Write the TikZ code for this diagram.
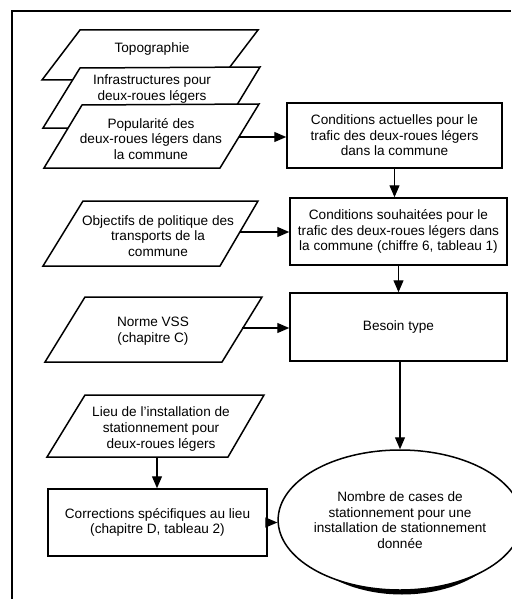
\documentclass[tikz,border=0pt]{standalone}
\usepackage{fontspec}
\setmainfont{Liberation Sans}
\usetikzlibrary{arrows.meta,shapes.geometric}
\newcommand{\fsz}{\fontsize{13.6}{15.6}\selectfont}
\tikzset{
  box/.style={draw, line width=1.5pt, fill=white, align=center, inner sep=0pt, font=\fsz},
  txt/.style={align=center, inner sep=0pt, font=\fsz},
  arr/.style={line width=1.2pt, -{Triangle[length=12pt,width=10pt]}},
  para/.style={draw, line width=1.5pt, fill=white, line join=miter},
}
\begin{document}
\begin{tikzpicture}[x=1pt,y=-1pt]
\useasboundingbox (0,0) rectangle (511,599);
% frame
\draw[line width=2.2pt] (12,599) -- (12,11) -- (511,11);
% stacked inputs
\draw[para] (80,30) -- (258,30) -- (220,80) -- (42,80) -- cycle;
\node[txt] (topo) at (152,49) {Topographie};
\draw[para] (80,68) -- (260,67) -- (223,128) -- (43,128) -- cycle;
\node[txt] (infra) at (152,89) {Infrastructures pour\\deux-roues légers};
\draw[para] (82,105) -- (259,104) -- (220,168) -- (44,168) -- cycle;
\node[txt] (pop) at (151,139) {Popularité des\\deux-roues légers dans\\la commune};
\coordinate (popR) at (239,137);
% right column
\node[box, minimum width=215pt, minimum height=65pt] (act) at (394.5,135.5)
  {Conditions actuelles pour le\\trafic des deux-roues légers\\dans la commune};
\node[box, minimum width=217pt, minimum height=67pt] (souh) at (398.5,231.5)
  {Conditions souhaitées pour le\\trafic des deux-roues légers dans\\la commune (chiffre 6, tableau 1)};
\node[box, minimum width=217pt, minimum height=68pt] (bes) at (398.5,327) {Besoin type};
% objectifs
\draw[para] (83,201) -- (258,201) -- (220,266) -- (43,266) -- cycle;
\node[txt] (obj) at (158,236) {Objectifs de politique des\\transports de la\\commune};
\coordinate (objR) at (240,232);
% norme
\draw[para] (85,297) -- (262,297) -- (222,362) -- (45,362) -- cycle;
\node[txt] (vss) at (153,331) {Norme VSS\\(chapitre C)};
\coordinate (vssR) at (242,328);
% lieu
\draw[para] (85,395) -- (264,395) -- (228,457) -- (47,457) -- cycle;
\node[txt] (lieu) at (161,429) {Lieu de l’installation de\\stationnement pour\\deux-roues légers};
\coordinate (lieuB) at (157,457);
% corrections
\node[box, minimum width=219pt, minimum height=67pt] (cor) at (157.5,522.5)
  {Corrections spécifiques au lieu\\(chapitre D, tableau 2)};
% ellipse with shadow
\node[ellipse, fill=black, minimum width=218pt, minimum height=142pt, inner sep=0pt] (nbs) at (402,523.5) {};
\node[ellipse, draw, line width=1.5pt, fill=white, minimum width=216pt, minimum height=140pt, inner sep=0pt, align=center, font=\fsz] (nb) at (400,520)
  {Nombre de cases de\\stationnement pour une\\installation de stationnement\\donnée};
% connectors
\draw[arr] (popR) -- (popR -| act.west);
\draw[arr] (objR) -- (objR -| souh.west);
\draw[arr] (vssR) -- (vssR -| bes.west);
\draw[arr] (act.south) -- (act.south |- souh.north);
\draw[arr] (souh.south) -- (bes.north);
\draw[arr] (nb.north |- bes.south) -- (nb.north);
\draw[arr] (lieuB) -- (lieuB |- cor.north);
\draw[arr] (cor.east) -- (cor.east -| nb.west);
\end{tikzpicture}
\end{document}
